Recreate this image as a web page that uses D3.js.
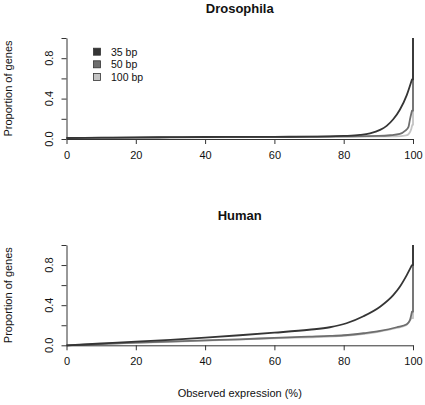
<!DOCTYPE html>
<html><head><meta charset="utf-8">
<script src="https://cdn.jsdelivr.net/npm/d3@7"></script>
<style>
body{margin:0;background:#fff;}
svg{display:block;font-family:"Liberation Sans",Arial,sans-serif;}
</style></head>
<body><svg id="c" width="425" height="405"></svg>
<script>
// ---- data ----
const seriesNames = ["35 bp", "50 bp", "100 bp"];
const xTicks = [0, 20, 40, 60, 80, 100];
const yTicks = [0, 0.2, 0.4, 0.6, 0.8, 1.0];
const yTickLabels = ["0.0", "", "0.4", "", "0.8", ""];

// Drosophila
const drosX35 = [0, 10, 20, 30, 40, 50, 60, 70, 76, 80, 84.7, 87.6, 90.5, 92.4, 94.3, 96.2, 98.2, 99.7];
const drosY35 = [0.010, 0.013, 0.016, 0.018, 0.020, 0.021, 0.022, 0.023, 0.025, 0.030, 0.040, 0.056, 0.09, 0.13, 0.195, 0.29, 0.435, 0.59];
const drosX50 = [0, 20, 40, 60, 80, 90, 93.4, 96.2, 97.7, 98.7, 99.1, 99.7];
const drosY50 = [0.010, 0.014, 0.018, 0.021, 0.025, 0.030, 0.037, 0.05, 0.08, 0.12, 0.19, 0.28];
const drosX100 = [0, 20, 40, 60, 80, 95, 98, 98.9, 99.5, 99.8];
const drosY100 = [0.008, 0.012, 0.016, 0.019, 0.022, 0.025, 0.035, 0.056, 0.10, 0.14];

// Human
const humX35 = [0, 10, 20, 30, 40, 50, 60, 70, 76, 80.8, 85.7, 90.5, 94.3, 96.2, 98.2, 99.7];
const humY35 = [0, 0.018, 0.036, 0.055, 0.076, 0.10, 0.126, 0.155, 0.18, 0.22, 0.29, 0.385, 0.50, 0.584, 0.70, 0.80];
const humX50 = [0, 20, 40, 50, 60, 70, 76, 80, 85.7, 90.5, 95.3, 98.2, 99.1, 99.7];
const humY50 = [0, 0.026, 0.05, 0.06, 0.074, 0.086, 0.093, 0.10, 0.12, 0.143, 0.18, 0.21, 0.25, 0.335];
const humX100 = [0, 20, 40, 60, 80, 90, 95, 98, 99.5];
const humY100 = [0, 0.024, 0.046, 0.07, 0.095, 0.135, 0.17, 0.20, 0.27];

const colors = {"35 bp": "#353535", "50 bp": "#6e6e6e", "100 bp": "#c4c4c4"};

const panels = [
  {title: "Drosophila", top: 38, bottom: 139, legend: true, xlabel: false,
   series: [["100 bp", drosX100, drosY100], ["50 bp", drosX50, drosY50], ["35 bp", drosX35, drosY35]]},
  {title: "Human", top: 245, bottom: 345.3, legend: false, xlabel: true,
   series: [["100 bp", humX100, humY100], ["50 bp", humX50, humY50], ["35 bp", humX35, humY35]]}
];

const svg = d3.select("#c");
const left = 66.5, right = 413;
const axisCol = "#333";

panels.forEach(p => {
  const x = d3.scaleLinear().domain([0, 100]).range([left, right]);
  const y = d3.scaleLinear().domain([0, 1]).range([p.bottom, p.top]);
  const g = svg.append("g");

  // curves
  p.series.forEach(([name, xs, ys]) => {
    const pts = xs.map((v, i) => [v, ys[i]]);
    const line = d3.line().x(d => x(d[0])).y(d => y(d[1])).curve(d3.curveMonotoneX);
    const last = pts[pts.length - 1];
    const d = line(pts) + "L" + x(100) + "," + y(last[1]) + "L" + x(100) + "," + y(1);
    g.append("path").attr("d", d).attr("fill", "none")
      .attr("stroke", colors[name]).attr("stroke-width", 1.8).attr("stroke-linejoin", "round");
  });

  // x axis
  const xa = g.append("g").attr("transform", `translate(0,${p.bottom})`)
    .call(d3.axisBottom(x).tickValues(xTicks).tickSize(5).tickPadding(7).tickSizeOuter(0));
  xa.select(".domain").attr("stroke", axisCol);
  xa.selectAll(".tick line").attr("stroke", axisCol);
  xa.selectAll("text").attr("font-size", 11).attr("fill", "#111").attr("font-family", null);
  xa.attr("font-family", null);

  // y axis
  const ya = g.append("g").attr("transform", `translate(${left},0)`)
    .call(d3.axisLeft(y).tickValues(yTicks).tickSize(5).tickFormat("").tickSizeOuter(0));
  ya.select(".domain").attr("stroke", axisCol);
  ya.selectAll(".tick line").attr("stroke", axisCol);
  yTicks.forEach((t, i) => {
    if (!yTickLabels[i]) return;
    g.append("text").attr("transform", `translate(53,${y(t)}) rotate(-90)`)
      .attr("text-anchor", "middle").attr("font-size", 11).attr("fill", "#111").text(yTickLabels[i]);
  });

  // title
  g.append("text").attr("x", (left + right) / 2).attr("y", p.top - 25)
    .attr("text-anchor", "middle").attr("font-size", 13).attr("font-weight", "bold").attr("fill", "#111").text(p.title);

  // y label
  g.append("text").attr("transform", `translate(12,${(p.top + p.bottom) / 2}) rotate(-90)`)
    .attr("text-anchor", "middle").attr("font-size", 11).attr("fill", "#111").text("Proportion of genes");

  if (p.xlabel) {
    g.append("text").attr("x", (left + right) / 2).attr("y", 397)
      .attr("text-anchor", "middle").attr("font-size", 11).attr("fill", "#111").text("Observed expression (%)");
  }

  if (p.legend) {
    const lg = g.append("g");
    seriesNames.forEach((n, i) => {
      const cy = 51.7 + i * 12.6;
      lg.append("rect").attr("x", 93.5).attr("y", cy - 3.5).attr("width", 7).attr("height", 7)
        .attr("fill", colors[n]).attr("stroke", "#333").attr("stroke-width", 0.8);
      lg.append("text").attr("x", 111).attr("y", cy + 4).attr("font-size", 10.5).attr("fill", "#111").text(n);
    });
  }
});
</script></body></html>
